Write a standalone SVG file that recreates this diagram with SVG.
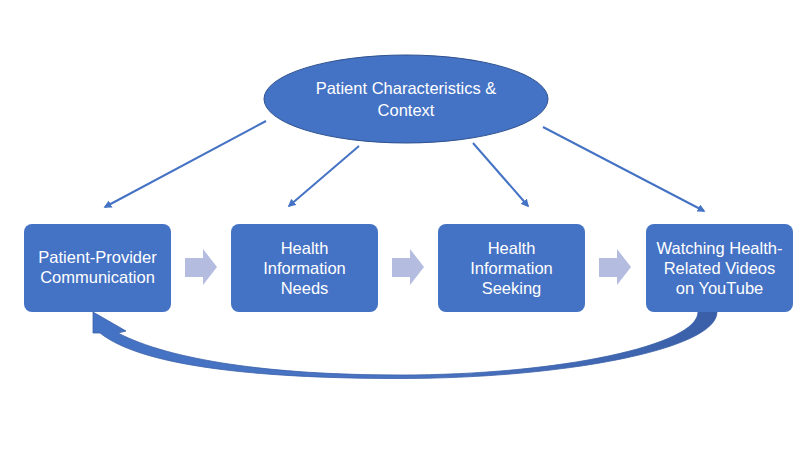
<svg xmlns="http://www.w3.org/2000/svg" width="800" height="449" viewBox="0 0 800 449">
<defs>
<style>
.box{fill:#4472C4;}
.t{font-family:"Liberation Sans",Arial,sans-serif;font-size:16.5px;fill:#FFFFFF;text-anchor:middle;}
.blk{fill:#B4BDE0;}
.con{stroke:#4472C4;stroke-width:2;fill:none;marker-end:url(#ah);}
</style>
<marker id="ah" viewBox="0 0 10 10" refX="8" refY="5" markerWidth="4" markerHeight="4" orient="auto" markerUnits="strokeWidth">
<path d="M0,0 L10,5 L0,10 Z" fill="#4472C4"/>
</marker>
<linearGradient id="cg" x1="0" y1="0" x2="1" y2="0">
<stop offset="0" stop-color="#4472C4"/>
<stop offset="0.5" stop-color="#4A74C2"/>
<stop offset="1" stop-color="#3A5FA8"/>
</linearGradient>
</defs>
<rect width="800" height="449" fill="#FFFFFF"/>

<g id="connectors">
<line class="con" x1="266" y1="121" x2="105" y2="207"/>
<line class="con" x1="359" y1="146" x2="289" y2="206"/>
<line class="con" x1="473" y1="143" x2="528" y2="206"/>
<line class="con" x1="543" y1="127" x2="704" y2="211"/>
<path class="blk" d="M185,258 H203 V249 L217,267 L203,285 V277 H185 Z"/>
<path class="blk" d="M392,258 H410 V249 L424,267 L410,285 V277 H392 Z"/>
<path class="blk" d="M599,258 H617 V249 L631,267 L617,285 V277 H599 Z"/>
<path id="feedback" d="M93,312 L126,331 L118,333 C170,360 270,375 400,375 C560,375 698,345 698,312 L717,312 C717,350 560,378.5 400,378.5 C250,378.5 140,365 100,333 L93,333 Z" fill="url(#cg)" stroke="#3A5FA8" stroke-width="0.8"/>
</g>

<g id="context">
<ellipse cx="406" cy="99" rx="142" ry="44" fill="#4472C4" stroke="#2F528F" stroke-width="1"/>
<text class="t" x="406" y="94">Patient Characteristics &amp;</text>
<text class="t" x="406" y="116">Context</text>
</g>

<g id="communication">
<rect class="box" x="24" y="224" width="147" height="88" rx="8"/>
<text class="t" x="97.5" y="263">Patient-Provider</text>
<text class="t" x="97.5" y="283">Communication</text>
</g>

<g id="needs">
<rect class="box" x="231" y="224" width="147" height="88" rx="8"/>
<text class="t" x="304.5" y="254">Health</text>
<text class="t" x="304.5" y="274">Information</text>
<text class="t" x="304.5" y="294">Needs</text>
</g>

<g id="seeking">
<rect class="box" x="438" y="224" width="147" height="88" rx="8"/>
<text class="t" x="511.5" y="254">Health</text>
<text class="t" x="511.5" y="274">Information</text>
<text class="t" x="511.5" y="294">Seeking</text>
</g>

<g id="youtube">
<rect class="box" x="646" y="224" width="147" height="88" rx="8"/>
<text class="t" x="719.5" y="254">Watching Health-</text>
<text class="t" x="719.5" y="274">Related Videos</text>
<text class="t" x="719.5" y="294">on YouTube</text>
</g>
</svg>
